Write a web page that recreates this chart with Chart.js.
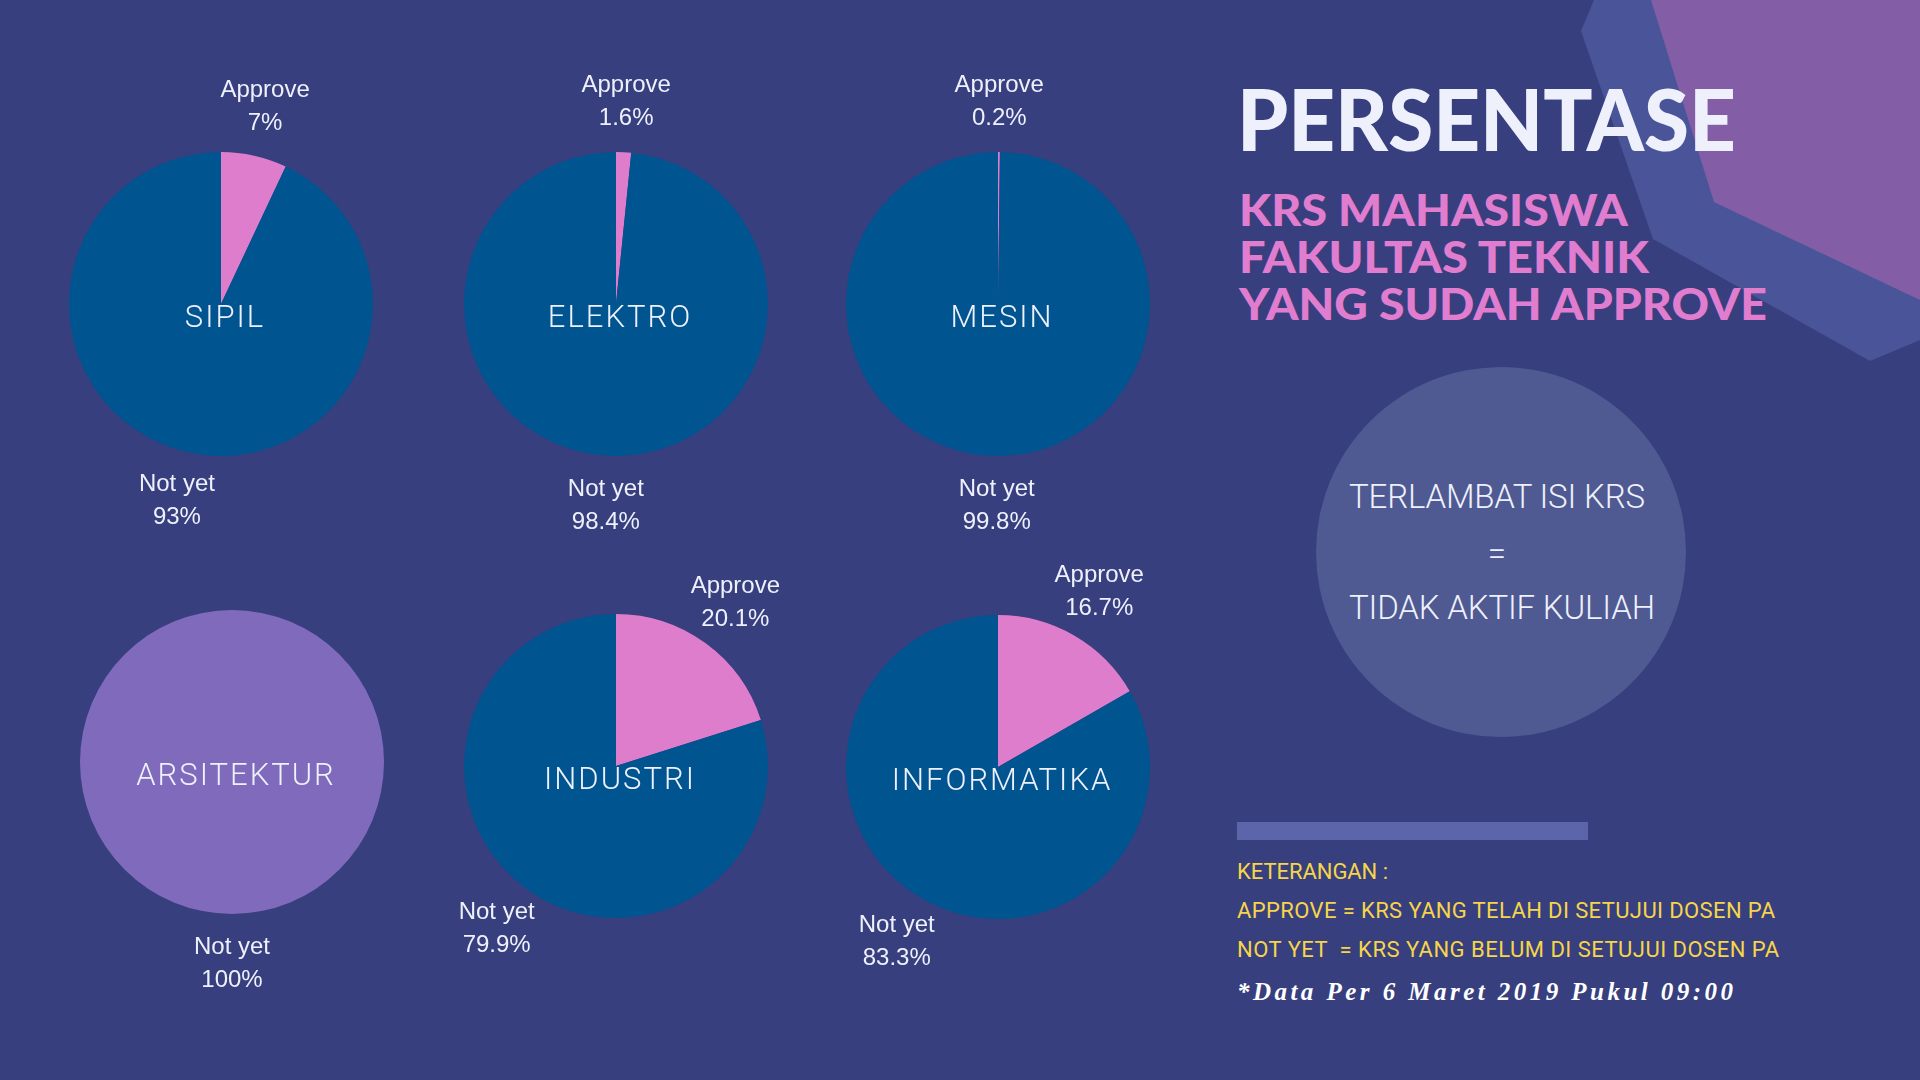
<!DOCTYPE html>
<html>
<head>
<meta charset="utf-8">
<script src="https://cdn.jsdelivr.net/npm/chart.js@4.4.1/dist/chart.umd.min.js"></script>
<style>
  body { margin: 0; width: 1920px; height: 1080px; overflow: hidden; position: relative; background: #373f7f; }
  svg.deco { position: absolute; left: 0; top: 0; }
  .pie { position: absolute; width: 400px; height: 500px; }
  .thin { font-family: Roboto, sans-serif; font-weight: 300; }
</style>
</head>
<body>
<svg class="deco" width="1920" height="1080">
  <polygon points="1594,0 1581,31 1653,239 1870,361 1920,340 1920,0" fill="#4a5599"/>
  <polygon points="1651,0 1714,202 1920,300 1920,0" fill="#835ea6"/>
  <circle cx="1501" cy="552" r="185" fill="#4f5a92"/>
  <rect x="1237" y="822" width="351" height="18" fill="#5c64aa"/>

  <text x="1237" y="151" font-family="Lato" font-weight="900" font-size="86" fill="#eef1fc"
        textLength="499" lengthAdjust="spacingAndGlyphs">PERSENTASE</text>
  <text x="1239" y="226" font-family="Lato" font-weight="900" font-size="44" fill="#e07dce"
        textLength="389" lengthAdjust="spacingAndGlyphs">KRS MAHASISWA</text>
  <text x="1239" y="273" font-family="Lato" font-weight="900" font-size="44" fill="#e07dce"
        textLength="410" lengthAdjust="spacingAndGlyphs">FAKULTAS TEKNIK</text>
  <text x="1239" y="320" font-family="Lato" font-weight="900" font-size="44" fill="#e07dce"
        textLength="528" lengthAdjust="spacingAndGlyphs">YANG SUDAH APPROVE</text>

  <text class="thin" x="1349" y="508" font-size="33" fill="#eef0fb"
        textLength="296" lengthAdjust="spacing">TERLAMBAT ISI KRS</text>
  <text class="thin" x="1497" y="565" font-size="33" fill="#eef0fb" text-anchor="middle">=</text>
  <text class="thin" x="1349" y="619" font-size="33" fill="#eef0fb"
        textLength="306" lengthAdjust="spacing">TIDAK AKTIF KULIAH</text>

  <text x="1237" y="879" font-family="Roboto" font-weight="400" font-size="22" fill="#f6d54a"
        textLength="151" lengthAdjust="spacing">KETERANGAN :</text>
  <text x="1237" y="918" font-family="Roboto" font-weight="400" font-size="22" fill="#f6d54a"
        textLength="538" lengthAdjust="spacing">APPROVE = KRS YANG TELAH DI SETUJUI DOSEN PA</text>
  <text x="1237" y="957" font-family="Roboto" font-weight="400" font-size="22" fill="#f6d54a"
        textLength="542" lengthAdjust="spacing" style="white-space:pre">NOT YET  = KRS YANG BELUM DI SETUJUI DOSEN PA</text>
  <text x="1237" y="1000" font-family="Liberation Serif" font-weight="700" font-style="italic" font-size="25" fill="#ffffff"
        textLength="496" lengthAdjust="spacing">*Data Per 6 Maret 2019 Pukul 09:00</text>
</svg>

<div class="pie" style="left:21px;top:54px"><canvas id="pie0" width="400" height="500"></canvas></div>
<div class="pie" style="left:416px;top:54px"><canvas id="pie1" width="400" height="500"></canvas></div>
<div class="pie" style="left:798px;top:54px"><canvas id="pie2" width="400" height="500"></canvas></div>
<div class="pie" style="left:32px;top:512px"><canvas id="pie3" width="400" height="500"></canvas></div>
<div class="pie" style="left:416px;top:516px"><canvas id="pie4" width="400" height="500"></canvas></div>
<div class="pie" style="left:798px;top:517px"><canvas id="pie5" width="400" height="500"></canvas></div>

<script>
const faculties = ['SIPIL', 'ELEKTRO', 'MESIN', 'ARSITEKTUR', 'INDUSTRI', 'INFORMATIKA'];
const sliceLabels = ['Approve', 'Not yet'];
const approve = [7, 1.6, 0.2, 0, 20.1, 16.7];
const notYet = [93, 98.4, 99.8, 100, 79.9, 83.3];

const PINK = '#df7dcd';
const BLUE = '#00548f';
const PURPLE = '#7f6abb';
const TEXT = '#eef0fb';

// slice labels sit outside the pie, on the middle angle of each slice
const outsideLabels = {
  id: 'outsideLabels',
  afterDatasetsDraw(chart) {
    const ctx = chart.ctx;
    const ds = chart.data.datasets[0];
    const meta = chart.getDatasetMeta(0);
    ctx.save();
    ctx.font = "24px 'Liberation Sans', Arial, sans-serif";
    ctx.fillStyle = TEXT;
    ctx.textAlign = 'center';
    ctx.textBaseline = 'middle';
    meta.data.forEach((arc, i) => {
      const v = ds.data[i];
      if (!v) return;
      const mid = (arc.startAngle + arc.endAngle) / 2;
      const d = arc.outerRadius * 1.33;
      const x = arc.x + Math.cos(mid) * d;
      const y = arc.y + Math.sin(mid) * d;
      ctx.fillText(chart.data.labels[i], x, y - 16.5);
      ctx.fillText(v + '%', x, y + 16.5);
    });
    ctx.restore();
  }
};

// faculty name in the middle of the pie
const centerName = {
  id: 'centerName',
  afterDatasetsDraw(chart, args, opts) {
    const ctx = chart.ctx;
    const arc = chart.getDatasetMeta(0).data[0];
    ctx.save();
    ctx.font = "300 31px Roboto, sans-serif";
    if ('letterSpacing' in ctx) ctx.letterSpacing = '2px';
    ctx.fillStyle = TEXT;
    ctx.textAlign = 'center';
    ctx.textBaseline = 'middle';
    ctx.fillText(opts.text, arc.x + 4, arc.y + 15);
    ctx.restore();
  }
};

faculties.forEach((name, i) => {
  new Chart(document.getElementById('pie' + i), {
    type: 'pie',
    data: {
      labels: sliceLabels,
      datasets: [{
        data: [approve[i], notYet[i]],
        backgroundColor: [PINK, approve[i] === 0 ? PURPLE : BLUE],
        borderWidth: 0
      }]
    },
    options: {
      responsive: false,
      animation: false,
      devicePixelRatio: 1,
      layout: { padding: { left: 48, right: 48, top: 98, bottom: 98 } },
      plugins: {
        legend: { display: false },
        tooltip: { enabled: false },
        centerName: { text: name }
      }
    },
    plugins: [outsideLabels, centerName]
  });
});
</script>
</body>
</html>
